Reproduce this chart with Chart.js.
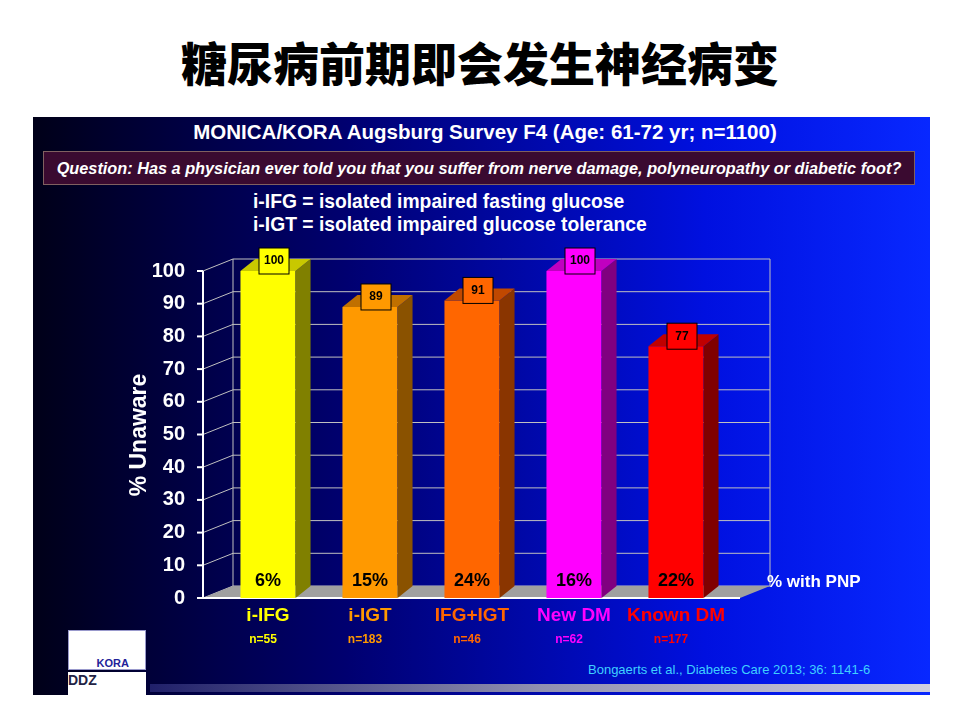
<!DOCTYPE html>
<html><head><meta charset="utf-8">
<script src="https://cdn.jsdelivr.net/npm/chart.js@4/dist/chart.umd.min.js"></script>
<style>
body{margin:0;width:960px;height:720px;background:#fff;position:relative;overflow:hidden;font-family:Arial,"Liberation Sans",sans-serif}
#title{position:absolute;top:28px;left:0;width:960px;text-align:center;font:900 46px "Noto Sans CJK SC";color:#000}
#panel{position:absolute;left:33px;top:117px;width:897px;height:578px;background:linear-gradient(90deg,#000018 0%,#000070 35%,#0010e0 75%,#0828ff 100%)}
#sub{position:absolute;left:120px;top:120px;width:730px;text-align:center;color:#fff;font:bold 20.5px Arial,"Liberation Sans";}
#q{position:absolute;left:43px;top:151px;width:870px;height:32px;background:#3a0a30;color:#fff;font:italic bold 16.3px Arial,"Liberation Sans";text-align:center;line-height:32px;border:1px solid #806060}
#def{position:absolute;left:253px;top:190px;color:#fff;font:bold 19.3px Arial,"Liberation Sans";line-height:23px}
#ref{position:absolute;left:588px;top:662px;color:#3fd0ff;font:13px Arial,"Liberation Sans"}
#bar{position:absolute;left:150px;top:684px;width:780px;height:8px;background:linear-gradient(90deg,#20206a,#9090b0,#d0d0e0)}
#logo1{position:absolute;left:68px;top:630px;width:78px;height:40px;background:#fff;border:1px solid #99c;font:bold 11px Arial;color:#229;text-align:right;padding-top:26px;box-sizing:border-box;padding-right:16px}
#logo2{position:absolute;left:68px;top:672px;width:78px;height:24px;background:#fff;font:bold 14px Arial;color:#224}
canvas{position:absolute;left:0;top:0}
</style></head><body>
<div id="title">糖尿病前期即会发生神经病变</div>
<div id="panel"></div>
<div id="sub">MONICA/KORA Augsburg Survey F4 (Age: 61-72 yr; n=1100)</div>
<div id="q">Question: Has a physician ever told you that you suffer from nerve damage, polyneuropathy or diabetic foot?</div>
<div id="def">i-IFG = isolated impaired fasting glucose<br>i-IGT = isolated impaired glucose tolerance</div>
<div id="ref">Bongaerts et al., Diabetes Care 2013; 36: 1141-6</div>
<div id="bar"></div>
<div id="logo1">KORA</div>
<div id="logo2">DDZ</div>
<canvas id="c" width="960" height="720"></canvas>
<script>
const categories=["i-IFG","i-IGT","IFG+IGT","New DM","Known DM"];
const unaware=[100,89,91,100,77];
const pnp=["6%","15%","24%","16%","22%"];
const nLabels=["n=55","n=183","n=46","n=62","n=177"];
const yTicks=[0,10,20,30,40,50,60,70,80,90,100];
const front=["#ffff00","#ff9900","#ff6600","#ff00ff","#ff0000"];
const side=["#808000","#8a5200","#8a3500","#800080","#800000"];
const top_=["#c8c800","#c07000","#c04800","#c000c0","#c00000"];
const labelCol=["#ffff00","#ff9900","#ff6600","#ff00ff","#ff0000"];
const DX=15,DY=-12;
const deco={id:'deco',
beforeDatasetsDraw(ch){const c=ch.ctx,a=ch.chartArea,y=ch.scales.y;
 c.save();
 c.strokeStyle='#c0c0c0';c.lineWidth=1;
 yTicks.forEach(t=>{const py=y.getPixelForValue(t);c.beginPath();c.moveTo(a.left-14+DX*2,py+DY);c.lineTo(a.right+43,py+DY);c.stroke();
  c.beginPath();c.moveTo(a.left-14,py);c.lineTo(a.left-14+DX*2,py+DY);c.stroke();});
 c.beginPath();c.moveTo(a.left-14+DX*2,y.getPixelForValue(100)+DY);c.lineTo(a.left-14+DX*2,a.bottom+DY);c.stroke();
 c.beginPath();c.moveTo(a.right+43,y.getPixelForValue(100)+DY);c.lineTo(a.right+43,a.bottom+DY);c.stroke();
 c.fillStyle='#a0a0a0';c.beginPath();c.moveTo(a.left-14,a.bottom);c.lineTo(a.right+13,a.bottom);c.lineTo(a.right+43,a.bottom+DY);c.lineTo(a.left-14+DX*2,a.bottom+DY);c.closePath();c.fill();
 c.strokeStyle='#fff';c.lineWidth=2;c.beginPath();c.moveTo(a.left-14,y.getPixelForValue(100));c.lineTo(a.left-14,a.bottom);c.lineTo(a.right+13,a.bottom);c.stroke();
 yTicks.forEach(t=>{const py=y.getPixelForValue(t);c.beginPath();c.moveTo(a.left-20,py);c.lineTo(a.left-14,py);c.stroke();});
 c.restore();},
afterDatasetsDraw(ch){const c=ch.ctx,m=ch.getDatasetMeta(0);c.save();
 m.data.forEach((b,i)=>{const w=b.width,l=b.x-w/2,r=b.x+w/2,t=b.y,bt=b.base;
  c.fillStyle=side[i];c.beginPath();c.moveTo(r,t);c.lineTo(r+DX,t+DY);c.lineTo(r+DX,bt+DY);c.lineTo(r,bt);c.closePath();c.fill();
  c.fillStyle=top_[i];c.beginPath();c.moveTo(l,t);c.lineTo(l+DX,t+DY);c.lineTo(r+DX,t+DY);c.lineTo(r,t);c.closePath();c.fill();
  c.fillStyle=front[i];c.strokeStyle='#000';c.lineWidth=1;const bx=b.x-9,by=t-23;c.fillRect(bx,by,30,26);c.strokeRect(bx,by,30,26);
  c.fillStyle='#000';c.font='bold 12px Arial';c.textAlign='center';c.textBaseline='middle';c.fillText(unaware[i],bx+15,by+13);
  c.font='bold 18px Arial';c.fillText(pnp[i],b.x,bt-17);
  c.fillStyle=labelCol[i];c.font='bold 19px Arial';c.fillText(categories[i],b.x,ch.chartArea.bottom+18);
  c.font='bold 12px Arial';c.fillText(nLabels[i],b.x-5,ch.chartArea.bottom+42);
 });
 c.fillStyle='#fff';c.font='bold 17px Arial';c.textAlign='left';c.textBaseline='middle';c.fillText('% with PNP',767,582);
 c.translate(140,435);c.rotate(-Math.PI/2);c.textAlign='center';c.font='bold 23px Arial';c.fillText('% Unaware',0,0);
 c.restore();}};
new Chart(document.getElementById('c'),{type:'bar',
data:{labels:categories,datasets:[{data:unaware,backgroundColor:front,borderWidth:0,barPercentage:0.54,categoryPercentage:1}]},
options:{responsive:false,animation:false,events:[],
 layout:{padding:{left:0,right:233,top:271,bottom:94}},
 plugins:{legend:{display:false},tooltip:{enabled:false}},
 scales:{
  y:{min:0,max:100,afterFit:s=>{s.width=217},afterBuildTicks:s=>{s.ticks=yTicks.map(v=>({value:v}))},
     grid:{display:false},border:{display:false},ticks:{color:'#fff',font:{size:20,weight:'bold',family:'Arial'},padding:24}},
  x:{afterFit:s=>{s.height=28},grid:{display:false},border:{display:false},ticks:{display:false}}}},
plugins:[deco]});
</script></body></html>
